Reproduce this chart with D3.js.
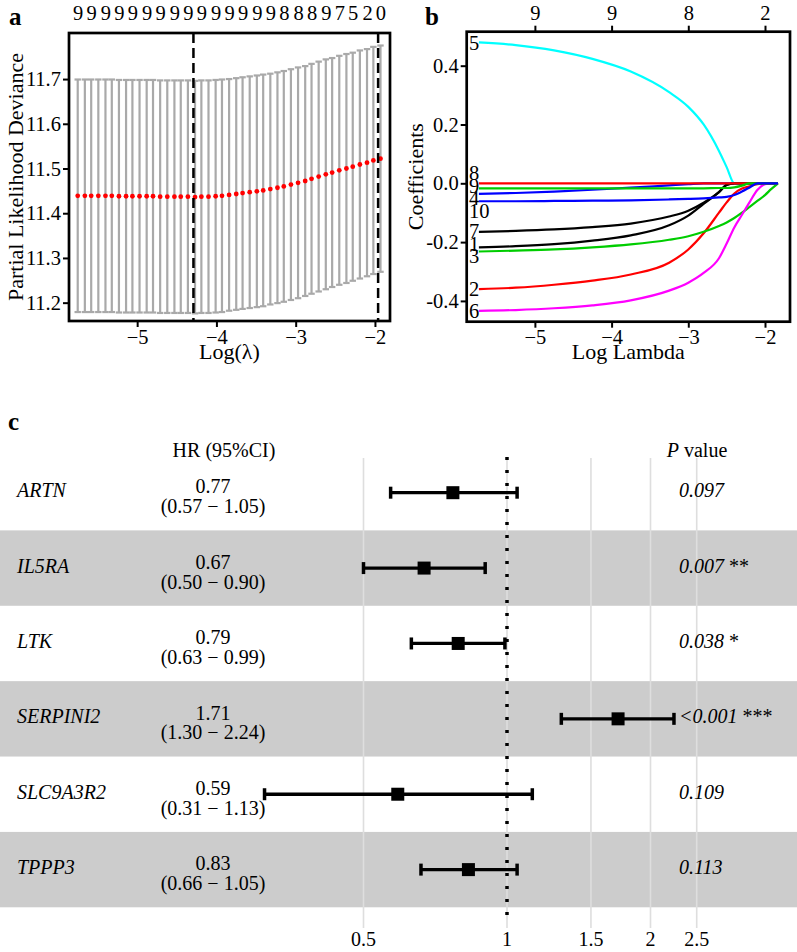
<!DOCTYPE html>
<html><head><meta charset="utf-8">
<script src="https://cdn.jsdelivr.net/npm/d3@7"></script>
<style>
body{margin:0;background:#fff;}
svg text{font-family:"Liberation Serif","Times New Roman",serif;fill:#000;}
</style></head><body>
<svg id="chart" width="797" height="952"></svg>
<script>
// ---------- Panel a: CV partial likelihood deviance ----------
const cvLogLambda = [-5.75,-5.66,-5.58,-5.49,-5.40,-5.32,-5.23,-5.14,-5.06,-4.97,-4.88,-4.80,-4.71,-4.62,-4.53,-4.45,-4.36,-4.27,-4.19,-4.10,-4.01,-3.93,-3.84,-3.75,-3.67,-3.58,-3.49,-3.41,-3.32,-3.23,-3.15,-3.06,-2.97,-2.88,-2.80,-2.71,-2.62,-2.54,-2.45,-2.36,-2.28,-2.19,-2.10,-2.02,-1.93];
const cvMean = [11.439,11.439,11.439,11.439,11.439,11.439,11.438,11.438,11.438,11.438,11.438,11.438,11.437,11.437,11.437,11.437,11.437,11.436,11.437,11.437,11.438,11.439,11.441,11.443,11.445,11.447,11.449,11.451,11.454,11.457,11.460,11.464,11.468,11.472,11.477,11.482,11.487,11.491,11.496,11.500,11.504,11.509,11.513,11.518,11.522];
const cvSD = [0.260,0.260,0.260,0.260,0.260,0.260,0.260,0.260,0.260,0.260,0.260,0.260,0.260,0.260,0.260,0.260,0.260,0.260,0.260,0.260,0.260,0.260,0.259,0.259,0.259,0.259,0.259,0.259,0.258,0.258,0.258,0.258,0.258,0.257,0.257,0.257,0.257,0.256,0.256,0.256,0.255,0.255,0.254,0.254,0.253];
const cvNonzero = [9,9,9,9,9,9,9,9,9,9,9,9,9,9,9,9,9,9,9,9,9,9,9,9,9,9,9,9,9,9,8,8,8,8,8,9,9,8,7,6,5,4,2,1,0];
const lambdaMin = -4.29;
const lambda1se = -1.96;
const aXTicks = [-5,-4,-3,-2];
const aYTicks = [11.2,11.3,11.4,11.5,11.6,11.7];

// ---------- Panel b: coefficient paths ----------
const pathLogLambda = [-5.73,-5.25,-4.75,-4.25,-3.75,-3.25,-3.0,-2.8,-2.6,-2.5,-2.4,-2.3,-2.2,-2.1,-2.0,-1.92,-1.83];
const coefNames = ["1","2","3","4","5","6","7","8","9","10"];
const coef1  = [-0.218,-0.214,-0.207,-0.195,-0.177,-0.143,-0.110,-0.070,-0.030,-0.006,0,0,0,0,0,0,0];
const coef2  = [-0.360,-0.355,-0.345,-0.331,-0.310,-0.270,-0.225,-0.170,-0.100,-0.065,-0.035,-0.018,-0.010,-0.003,0,0,0];
const coef3  = [-0.232,-0.229,-0.225,-0.218,-0.208,-0.192,-0.180,-0.165,-0.145,-0.133,-0.118,-0.100,-0.080,-0.060,-0.040,-0.020,0];
const coef4  = [-0.036,-0.033,-0.028,-0.022,-0.015,-0.007,-0.003,0,0,0,0,0,0,0,0,0,0];
const coef5  = [0.479,0.470,0.452,0.423,0.380,0.310,0.260,0.200,0.110,0.055,0,0,0,0,0,0,0];
const coef6  = [-0.434,-0.431,-0.425,-0.415,-0.398,-0.365,-0.338,-0.305,-0.255,-0.205,-0.150,-0.107,-0.064,-0.023,-0.003,0,0];
const coef7  = [-0.165,-0.162,-0.157,-0.149,-0.137,-0.113,-0.093,-0.066,-0.030,-0.005,0,0,0,0,0,0,0];
const coef8  = [0,0,0,0,0,0,0,0,0,0,0,0,0,0,0,0,0];
const coef9  = [-0.017,-0.017,-0.017,-0.017,-0.017,-0.017,-0.017,-0.017,-0.016,-0.016,-0.014,-0.008,0,0,0,0,0];
const coef10 = [-0.061,-0.061,-0.060,-0.059,-0.058,-0.055,-0.053,-0.051,-0.048,-0.046,-0.040,-0.028,-0.014,0,0,0,0];
const coefColors = ["#000000","#FF0000","#00CD00","#0000FF","#00FFFF","#FF00FF"];
const bXTicks = [-5,-4,-3,-2];
const bTopLabels = ["9","9","8","2"];
const bYTicks = [-0.4,-0.2,0,0.2,0.4];

// ---------- Panel c: forest plot ----------
const genes = ["ARTN","IL5RA","LTK","SERPINI2","SLC9A3R2","TPPP3"];
const hr = [0.77,0.67,0.79,1.71,0.59,0.83];
const hrLow = [0.57,0.50,0.63,1.30,0.31,0.66];
const hrHigh = [1.05,0.90,0.99,2.24,1.13,1.05];
const pText = ["0.097","0.007","0.038","<0.001","0.109","0.113"];
const pStars = ["","**","*","***","",""];
const cTicks = [0.5,1,1.5,2,2.5];

const svg = d3.select("#chart");
const FT = 20.5; // tick labels, panels a, b
const FS = 22;   // axis titles, panels a, b
const FC = 20;   // panel c

// =============== Panel a ===============
const ax = d3.scaleLinear().domain([-5.86,-1.81]).range([69,390]);
const ay = d3.scaleLinear().domain([11.159,11.803]).range([321,33]);
const ga = svg.append("g");
const barw = (ax.domain()[1]-ax.domain()[0])*0.01;
const cvData = cvLogLambda.map((l,i)=>({l, m:cvMean[i], up:cvMean[i]+cvSD[i], lo:cvMean[i]-cvSD[i], nz:cvNonzero[i], i}));
const eb = ga.append("g").attr("stroke","#A9A9A9").attr("stroke-width",2.2);
eb.selectAll(".v").data(cvData).join("line")
  .attr("x1",d=>ax(d.l)).attr("x2",d=>ax(d.l)).attr("y1",d=>ay(d.up)).attr("y2",d=>ay(d.lo));
eb.selectAll(".u").data(cvData).join("line").attr("class","u")
  .attr("x1",d=>ax(d.l-barw)).attr("x2",d=>ax(d.l+barw)).attr("y1",d=>ay(d.up)).attr("y2",d=>ay(d.up));
eb.selectAll(".lo").data(cvData).join("line").attr("class","lo")
  .attr("x1",d=>ax(d.l-barw)).attr("x2",d=>ax(d.l+barw)).attr("y1",d=>ay(d.lo)).attr("y2",d=>ay(d.lo));
ga.append("g").selectAll("circle").data(cvData).join("circle")
  .attr("cx",d=>ax(d.l)).attr("cy",d=>ay(d.m)).attr("r",2.4).attr("fill","#FF0000");
[lambdaMin, lambda1se].forEach(v=>{
  ga.append("line").attr("x1",ax(v)).attr("x2",ax(v)).attr("y1",33).attr("y2",321)
    .attr("stroke","#000").attr("stroke-width",2.5).attr("stroke-dasharray","10,5");
});
ga.append("rect").attr("x",69).attr("y",33).attr("width",321).attr("height",288)
  .attr("fill","none").attr("stroke","#000").attr("stroke-width",2.7);
// axes
const aLeft = ga.append("g").attr("transform","translate(69,0)")
  .call(d3.axisLeft(ay).tickValues(aYTicks).tickFormat(d=>d.toFixed(1)).tickSize(6).tickPadding(2));
const aBottom = ga.append("g").attr("transform","translate(0,321)")
  .call(d3.axisBottom(ax).tickValues(aXTicks).tickFormat(d3.format("d")).tickSize(6).tickPadding(2));
const topData = cvData.filter(d=>d.i%2===0);
const aTop = ga.append("g").attr("transform","translate(0,33)")
  .call(d3.axisTop(ax).tickValues(topData.map(d=>d.l)).tickFormat((d,i)=>String(topData[i].nz)).tickSize(0).tickPadding(13));
[aLeft,aBottom,aTop].forEach(g=>{
  g.select(".domain").remove();
  g.selectAll("line").attr("stroke","#000").attr("stroke-width",2);
  g.selectAll("text").attr("font-size",FT).attr("font-family","Liberation Serif").attr("fill","#000");
});
ga.append("text").attr("transform","translate(23,177) rotate(-90)").attr("text-anchor","middle")
  .attr("font-size",FS).text("Partial Likelihood Deviance");
ga.append("text").attr("x",229.5).attr("y",359).attr("text-anchor","middle").attr("font-size",FS).text("Log(λ)");
ga.append("text").attr("x",9).attr("y",25).attr("font-size",25).attr("font-weight","bold").text("a");

// =============== Panel b ===============
const bx = d3.scaleLinear().domain([-5.889,-1.674]).range([466.7,790]);
const by = d3.scaleLinear().domain([-0.4707,0.5156]).range([321.7,31.7]);
const gb = svg.append("g");
const coefs = [coef1,coef2,coef3,coef4,coef5,coef6,coef7,coef8,coef9,coef10];
const line = d3.line().x((d,i)=>bx(pathLogLambda[i])).y(d=>by(d)).curve(d3.curveMonotoneX);
gb.append("g").selectAll("path").data(coefs).join("path")
  .attr("d",d=>line(d)).attr("fill","none").attr("stroke-width",2.2)
  .attr("stroke",(d,i)=>coefColors[i%coefColors.length]);
// labels with simple repel
const labs = coefs.map((c,i)=>({name:coefNames[i], y:by(c[0])})).sort((a,b)=>a.y-b.y);
const gap = 12.5;
for(let it=0;it<200;it++){
  for(let k=0;k<labs.length-1;k++){
    const d = labs[k+1].y-labs[k].y;
    if(d<gap){const s=(gap-d)/2; labs[k].y-=s; labs[k+1].y+=s;}
  }
}
gb.append("g").selectAll("text").data(labs).join("text")
  .attr("x",469).attr("y",d=>d.y).attr("dy","0.35em").attr("font-size",FT).text(d=>d.name);
gb.append("rect").attr("x",466.7).attr("y",31.7).attr("width",323.3).attr("height",290)
  .attr("fill","none").attr("stroke","#000").attr("stroke-width",2.7);
const bLeft = gb.append("g").attr("transform","translate(466.7,0)")
  .call(d3.axisLeft(by).tickValues(bYTicks).tickFormat(d=>d.toFixed(1)).tickSize(6).tickPadding(2));
const bBottom = gb.append("g").attr("transform","translate(0,321.7)")
  .call(d3.axisBottom(bx).tickValues(bXTicks).tickFormat(d3.format("d")).tickSize(6).tickPadding(2));
const bTop = gb.append("g").attr("transform","translate(0,31.7)")
  .call(d3.axisTop(bx).tickValues(bXTicks).tickFormat((d,i)=>bTopLabels[i]).tickSize(6).tickPadding(6));
[bLeft,bBottom,bTop].forEach(g=>{
  g.select(".domain").remove();
  g.selectAll("line").attr("stroke","#000").attr("stroke-width",2);
  g.selectAll("text").attr("font-size",FT).attr("font-family","Liberation Serif").attr("fill","#000");
});
gb.append("text").attr("transform","translate(423,176.7) rotate(-90)").attr("text-anchor","middle")
  .attr("font-size",FS).text("Coefficients");
gb.append("text").attr("x",628.3).attr("y",359).attr("text-anchor","middle").attr("font-size",FS).text("Log Lambda");
gb.append("text").attr("x",425).attr("y",25).attr("font-size",25).attr("font-weight","bold").text("b");

// =============== Panel c ===============
const gc = svg.append("g");
const cx = d3.scaleLog().domain([0.5,2.5]).range([363.5,696.7]);
const cy = d3.scaleBand().domain(genes).range([455,907.3]).padding(0);
const rows = genes.map((g,i)=>({g,hr:hr[i],lo:hrLow[i],hi:hrHigh[i],p:pText[i],s:pStars[i],i}));
gc.selectAll(".band").data(rows.filter(d=>d.i%2===1)).join("rect")
  .attr("x",0).attr("width",797).attr("y",d=>cy(d.g)).attr("height",cy.bandwidth()).attr("fill","#CCCCCC");
gc.append("g").selectAll("line").data(cTicks).join("line")
  .attr("x1",d=>cx(d)).attr("x2",d=>cx(d)).attr("y1",458).attr("y2",928)
  .attr("stroke","#DEDEDE").attr("stroke-width",1.6);
gc.append("line").attr("x1",cx(1)).attr("x2",cx(1)).attr("y1",457).attr("y2",918)
  .attr("stroke","#000").attr("stroke-width",3.5).attr("stroke-dasharray","3,10");
const mid = d=>cy(d.g)+cy.bandwidth()/2;
gc.append("g").selectAll("line").data(rows).join("line")
  .attr("x1",d=>cx(d.lo)).attr("x2",d=>cx(d.hi)).attr("y1",mid).attr("y2",mid)
  .attr("stroke","#000").attr("stroke-width",3.3);
gc.append("g").selectAll("line").data(rows.flatMap(d=>[{v:d.lo,d},{v:d.hi,d}])).join("line")
  .attr("x1",e=>cx(e.v)).attr("x2",e=>cx(e.v)).attr("y1",e=>mid(e.d)-6).attr("y2",e=>mid(e.d)+6)
  .attr("stroke","#000").attr("stroke-width",3.5);
gc.append("g").selectAll("rect").data(rows).join("rect")
  .attr("x",d=>cx(d.hr)-6.5).attr("y",d=>mid(d)-6.5).attr("width",13).attr("height",13).attr("fill","#000");
// texts
gc.append("g").selectAll("text").data(rows).join("text")
  .attr("x",17).attr("y",d=>mid(d)+4.5).attr("font-size",FC).attr("font-style","italic").text(d=>d.g);
gc.append("g").selectAll("text").data(rows).join("text")
  .attr("x",213).attr("y",d=>mid(d)+0.7).attr("text-anchor","middle").attr("font-size",FC).text(d=>d.hr.toFixed(2));
gc.append("g").selectAll("text").data(rows).join("text")
  .attr("x",213).attr("y",d=>mid(d)+20.5).attr("text-anchor","middle").attr("font-size",FC)
  .text(d=>"("+d.lo.toFixed(2)+" \u2212 "+d.hi.toFixed(2)+")");
const pt = gc.append("g").selectAll("text").data(rows).join("text")
  .attr("x",679).attr("y",d=>mid(d)+4.5).attr("font-size",FC);
pt.append("tspan").attr("font-style","italic").text(d=>d.p);
pt.append("tspan").text(d=>d.s?"\u00a0"+d.s:"");
gc.append("text").attr("x",224).attr("y",457).attr("text-anchor","middle").attr("font-size",FC).text("HR (95%CI)");
const ph = gc.append("text").attr("x",697).attr("y",457).attr("text-anchor","middle").attr("font-size",FC);
ph.append("tspan").attr("font-style","italic").text("P");
ph.append("tspan").text(" value");
gc.append("g").selectAll("text").data(cTicks).join("text")
  .attr("x",d=>cx(d)).attr("y",946).attr("text-anchor","middle").attr("font-size",FC).attr("fill","#4D4D4D")
  .text(d=>String(d));
gc.append("text").attr("x",8).attr("y",430).attr("font-size",25).attr("font-weight","bold").text("c");
</script></body></html>
